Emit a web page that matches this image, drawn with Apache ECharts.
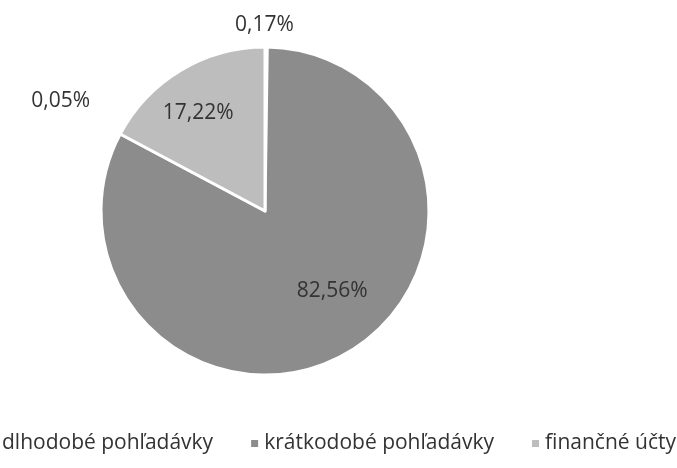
<!DOCTYPE html>
<html>
<head>
<meta charset="utf-8">
<script src="https://cdn.jsdelivr.net/npm/echarts@6/dist/echarts.min.js"></script>
<style>
	html, body { margin: 0; padding: 0; background: #fff; }
	#chart { width: 677px; height: 468px; }
</style>
</head>
<body>
<div id="chart"></div>
<script>
	// hodnoty v percentach, poradie od 12 hodin v smere hodinovych ruciciek
	var categories = ['zásoby', 'dlhodobé pohľadávky', 'krátkodobé pohľadávky', 'finančné účty'];
	var values = [0.17, 0.05, 82.56, 17.22];
	var legendItems = ['dlhodobé pohľadávky', 'krátkodobé pohľadávky', 'finančné účty'];

	var colors = ['#9a9a9a', '#a8a8a8', '#8c8c8c', '#bdbdbd'];
	// posuny popiskov (len vzhlad)
	var labelStyle = [
		{ position: 'outside', offset: [-66, -7] },
		{ position: 'outside', offset: [-271, 69] },
		{ position: 'inside', offset: [24, 7] },
		{ position: 'inside', offset: [-23, -25] }
	];

	var chart = echarts.init(document.getElementById('chart'));

	var data = categories.map(function (name, i) {
		return {
			name: name,
			value: values[i],
			itemStyle: { color: colors[i] },
			label: labelStyle[i]
		};
	});

	chart.setOption({
		animation: false,
		legend: {
			data: legendItems,
			bottom: 9,
			left: -18,
			width: 760,
			itemWidth: 9,
			itemHeight: 9,
			itemGap: 36,
			icon: 'rect',
			textStyle: { fontFamily: 'Open Sans', fontSize: 21, color: '#333' }
		},
		series: [{
			type: 'pie',
			center: [265, 211],
			radius: 164,
			startAngle: 90,
			clockwise: true,
			avoidLabelOverlap: false,
			itemStyle: { borderColor: '#fff', borderWidth: 3 },
			labelLine: { show: false },
			label: {
				formatter: function (p) { return p.value.toFixed(2).replace('.', ',') + '%'; },
				fontFamily: 'Open Sans',
				fontSize: 21,
				color: '#333'
			},
			data: data
		}]
	});
</script>
</body>
</html>
